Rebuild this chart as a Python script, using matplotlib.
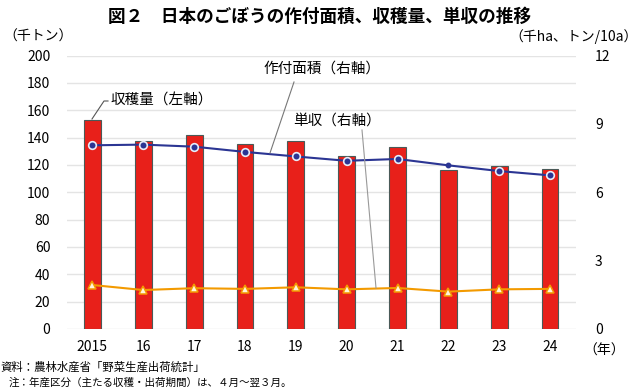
import matplotlib
matplotlib.use("Agg")
import matplotlib.pyplot as plt
import numpy as np

plt.rcParams['font.family'] = ['Noto Sans CJK JP', 'DejaVu Sans']

years = ["2015", "16", "17", "18", "19", "20", "21", "22", "23", "24"]
harvest = [152.6, 137.6, 142.1, 135.3, 137.2, 126.5, 132.9, 116.6, 119.0, 117.2]  # 千トン (left)
area = [8.06, 8.09, 8.00, 7.77, 7.57, 7.38, 7.46, 7.18, 6.93, 6.74]  # 千ha (right)
yield_ = [1.93, 1.71, 1.79, 1.76, 1.83, 1.74, 1.80, 1.64, 1.74, 1.76]  # トン/10a (right)
left_ticks = [0, 20, 40, 60, 80, 100, 120, 140, 160, 180, 200]
right_ticks = [0, 3, 6, 9, 12]

fig = plt.figure(figsize=(6.4, 3.92), dpi=100)
ax = fig.add_axes([67/640, 1-329/392, (575.5-67)/640, (329-55.5)/392])
ax2 = ax.twinx()

x = np.arange(len(years))
ax.set_axisbelow(True)
ax.bar(x, harvest, width=0.33, color='#E8201A', edgecolor='#4a5a58', linewidth=0.8, zorder=2)
ax.set_ylim(0, 200)
ax.set_xlim(-0.5, len(years)-0.5)
ax.set_yticks(left_ticks)
ax.yaxis.grid(True, color='#e4e4e4', linewidth=1.0)
ax.tick_params(axis='y', length=0, labelsize=10, pad=12)
ax.tick_params(axis='x', length=0, labelsize=10, pad=8)
ax.set_xticks(x)
ax.set_xticklabels(years)
for s in ax.spines.values():
    s.set_visible(False)
for s in ax2.spines.values():
    s.set_visible(False)

ax2.set_ylim(0, 12)
ax2.set_yticks(right_ticks)
ax2.tick_params(axis='y', length=0, labelsize=10, pad=14)

blue = '#2B3593'
orange = '#F39A00'
ax2.plot(x, area, color=blue, linewidth=1.5, zorder=3)
mask = [i for i in range(len(x)) if years[i] != "22"]
ax2.plot(x[mask], np.array(area)[mask], linestyle='none', marker='o', ms=5.5,
         mfc=blue, mec='#e6ecf8', mew=1.2, zorder=4)
ax2.plot([x[7]], [area[7]], linestyle='none', marker='o', ms=3.2, mfc=blue, mec=blue, zorder=4)
ax2.plot(x, yield_, color=orange, linewidth=1.5, zorder=3)
ax2.plot(x, yield_, linestyle='none', marker='^', ms=5.5, mfc='#fff6dc', mec=orange, mew=1.1, zorder=4)

# annotations (figure pixel coordinates)
def fx(px):
    return px/640
def fy(py):
    return 1-py/392

fig.add_artist(plt.Line2D([fx(92), fx(104), fx(108)], [fy(119), fy(101), fy(101)], color='#555555', lw=0.8))
fig.text(fx(110), fy(101), '収穫量（左軸）', fontsize=10.5, va='center', ha='left')
fig.add_artist(plt.Line2D([fx(270), fx(294)], [fy(153), fy(82)], color='#777777', lw=0.8))
fig.text(fx(263), fy(69), '作付面積（右軸）', fontsize=10.5, va='center', ha='left')
fig.add_artist(plt.Line2D([fx(362), fx(376)], [fy(130), fy(288)], color='#999999', lw=0.8))
fig.text(fx(293), fy(121), '単収（右軸）', fontsize=10.5, va='center', ha='left')

fig.text(0.5, fy(17), '図２　日本のごぼうの作付面積、収穫量、単収の推移', fontsize=12.7, fontweight='bold',
         ha='center', va='center')
fig.text(fx(3), fy(37), '（千トン）', fontsize=10, ha='left', va='center')
fig.text(fx(638), fy(37), '（千ha、トン/10a）', fontsize=10, ha='right', va='center')
fig.text(fx(583), fy(351), '（年）', fontsize=10, ha='left', va='center')
fig.text(fx(0), fy(367), '資料：農林水産省「野菜生産出荷統計」', fontsize=8.2, ha='left', va='center')
fig.text(fx(9), fy(383), '注：年産区分（主たる収穫・出荷期間）は、４月～翌３月。', fontsize=7.6, ha='left', va='center')

fig.savefig('out.png', dpi=100)
